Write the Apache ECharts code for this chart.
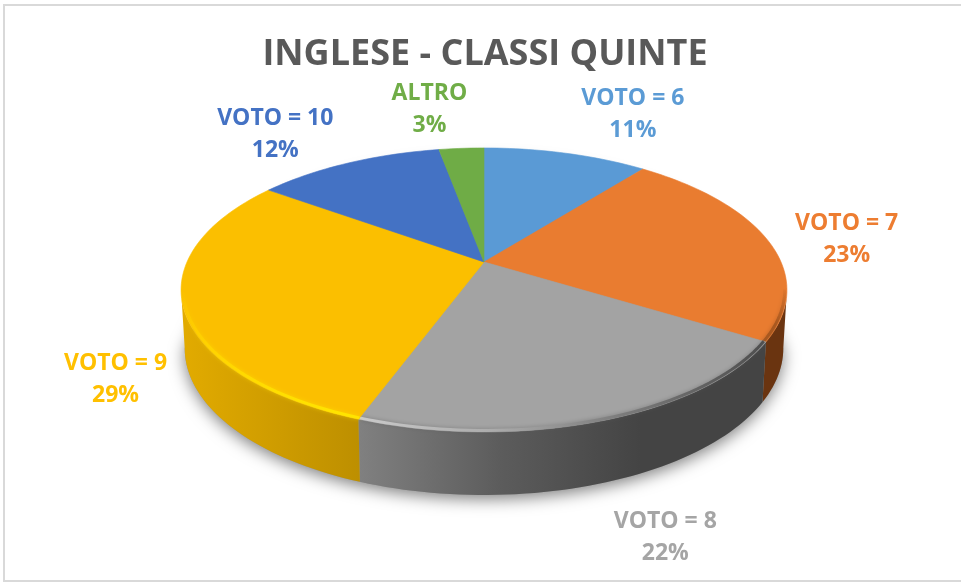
<!DOCTYPE html>
<html>
<head>
<meta charset="utf-8">
<style>html,body{margin:0;padding:0;background:#fff}#c{width:961px;height:584px}</style>
<script src="https://cdn.jsdelivr.net/npm/echarts@6/dist/echarts.min.js"></script>
</head>
<body>
<div id="c"></div>
<script>
const chartTitle = 'INGLESE - CLASSI QUINTE';
const categories = ['VOTO = 6', 'VOTO = 7', 'VOTO = 8', 'VOTO = 9', 'VOTO = 10', 'ALTRO'];
const shares = [10.6, 23.2, 21.8, 29.4, 12.1, 2.9];
const topColors = ['#5A9AD5', '#E97C30', '#A3A3A3', '#FBBF00', '#4472C4', '#6FAC46'];
const labelColors = ['#5B9BD5', '#ED7D31', '#A5A5A5', '#FFC000', '#4472C4', '#70AD47'];
// offset of each label from the rim point at the slice's middle angle
const labelOffsets = [[67, -39], [80, 1], [62, 117], [-67, 75], [-73, -29], [-32, -39]];

// perspective disc layout
const PX = 484, PY = 262, RX = 297, RY = 136.5, K = 0.197, DEPTH = 63;
const total = shares.reduce((a, b) => a + b, 0);
const starts = [];
shares.reduce((acc, v, i) => { starts[i] = acc; return acc + v; }, 0);
const rad = d => d * Math.PI / 180;
const angleOf = s => s / total * 360;
function project(deg, r) {
  const u = Math.sin(rad(deg)) * r, v = -Math.cos(rad(deg)) * r, den = 1 - K * v;
  return [PX + RX * u / den, PY + RY * v / den];
}
function lower(p, deg) {
  const v = -Math.cos(rad(deg));
  return [PX + (p[0] - PX) * 0.988, p[1] + DEPTH - 6 * (1 - Math.max(v, -0.2))];
}
function arc(a, b, r) {
  const pts = [], n = Math.max(2, Math.ceil(Math.abs(b - a) / 1.5));
  for (let i = 0; i <= n; i++) pts.push(project(a + (b - a) * i / n, r));
  return pts;
}
const VIS_A = 101.3, VIS_B = 258.7;
const grad = (x0, y0, x1, y1, stops) => ({
  type: 'linear', global: true, x: x0, y: y0, x2: x1, y2: y1,
  colorStops: stops.map((c, i) => ({ offset: i / (stops.length - 1), color: c }))
});
const sideFill = {
  1: '#6A3410',
  2: grad(360, 0, 640, 0, ['#808080', '#5C5C5C', '#444444']),
  3: grad(181, 0, 360, 0, ['#E2AB00', '#BD8F00'])
};
const rimFill = {
  1: grad(0, 285, 0, 325, ['rgba(168,88,31,0)', '#A8581F']),
  2: grad(360, 0, 760, 0, ['#CACACA', '#ABABAB', '#7A7A7A', '#505050']),
  3: grad(0, 290, 0, 415, ['rgba(255,208,0,0)', '#FFD400', '#FFE400'])
};
const rimGlow = { 1: 'rgba(120,60,20,0.4)', 2: 'rgba(90,90,90,0.5)', 3: 'rgba(255,224,0,0.6)' };

function renderShadow() {
  const pts = arc(VIS_A, VIS_B, 1).map((p, i, arr) => lower(p, VIS_A + (VIS_B - VIS_A) * i / (arr.length - 1)));
  return {
    type: 'polygon',
    silent: true,
    shape: { points: pts.concat(arc(VIS_B, VIS_A + 360, 0.9)) },
    style: { fill: '#999999', shadowBlur: 16, shadowColor: 'rgba(0,0,0,0.5)', shadowOffsetY: 4 }
  };
}
function renderSlice(params, api) {
  const i = params.dataIndex;
  const a = angleOf(starts[i]), b = angleOf(starts[i] + api.value(0));
  const children = [];
  const va = Math.max(a, VIS_A), vb = Math.min(b, VIS_B);
  if (vb > va) {
    const upper = arc(va, vb, 1);
    const n = upper.length - 1;
    const low = upper.map((p, j) => lower(p, va + (vb - va) * j / n)).reverse();
    children.push({
      type: 'polygon', silent: true,
      shape: { points: upper.concat(low) },
      style: { fill: sideFill[i], stroke: null }
    });
  }
  children.push({
    type: 'polygon', silent: true,
    shape: { points: [[PX, PY]].concat(arc(a, b, 1)) },
    style: { fill: topColors[i], stroke: topColors[i], lineWidth: 0.6 }
  });
  if (vb > va) {
    children.push({
      type: 'polyline', silent: true,
      shape: { points: arc(va, vb, 0.993) },
      style: { fill: null, stroke: rimFill[i], lineWidth: 3, lineCap: 'butt', shadowBlur: 4, shadowColor: rimGlow[i] }
    });
  }
  return { type: 'group', children };
}
function renderLabel(params, api) {
  const i = params.dataIndex;
  const mid = angleOf(starts[i] + api.value(0) / 2);
  const p = project(mid, 1);
  return {
    type: 'text', silent: true,
    x: p[0] + labelOffsets[i][0],
    y: p[1] + labelOffsets[i][1],
    style: {
      text: categories[i] + '\n' + Math.round(api.value(0)) + '%',
      fill: labelColors[i],
      font: 'bold 23px "Open Sans"',
      lineHeight: 32,
      align: 'center',
      verticalAlign: 'middle'
    }
  };
}

const chart = echarts.init(document.getElementById('c'), null, { renderer: 'canvas' });
chart.setOption({
  animation: false,
  backgroundColor: '#fff',
  title: {
    text: chartTitle,
    left: 480, top: 32, textAlign: 'center',
    textStyle: { fontFamily: '"Open Sans"', fontWeight: 'bold', fontSize: 36, color: '#595959' }
  },
  graphic: [{
    type: 'rect', silent: true,
    shape: { x: 4, y: 5, width: 980, height: 576 },
    style: { fill: null, stroke: '#D9D9D9', lineWidth: 2 }
  }],
  series: [
    { type: 'custom', coordinateSystem: 'none', z: 1, data: [0], renderItem: renderShadow },
    { type: 'custom', coordinateSystem: 'none', z: 2, data: shares.map(v => [v]), renderItem: renderSlice },
    { type: 'custom', coordinateSystem: 'none', z: 3, data: shares.map(v => [v]), renderItem: renderLabel }
  ]
});
</script>
</body>
</html>
